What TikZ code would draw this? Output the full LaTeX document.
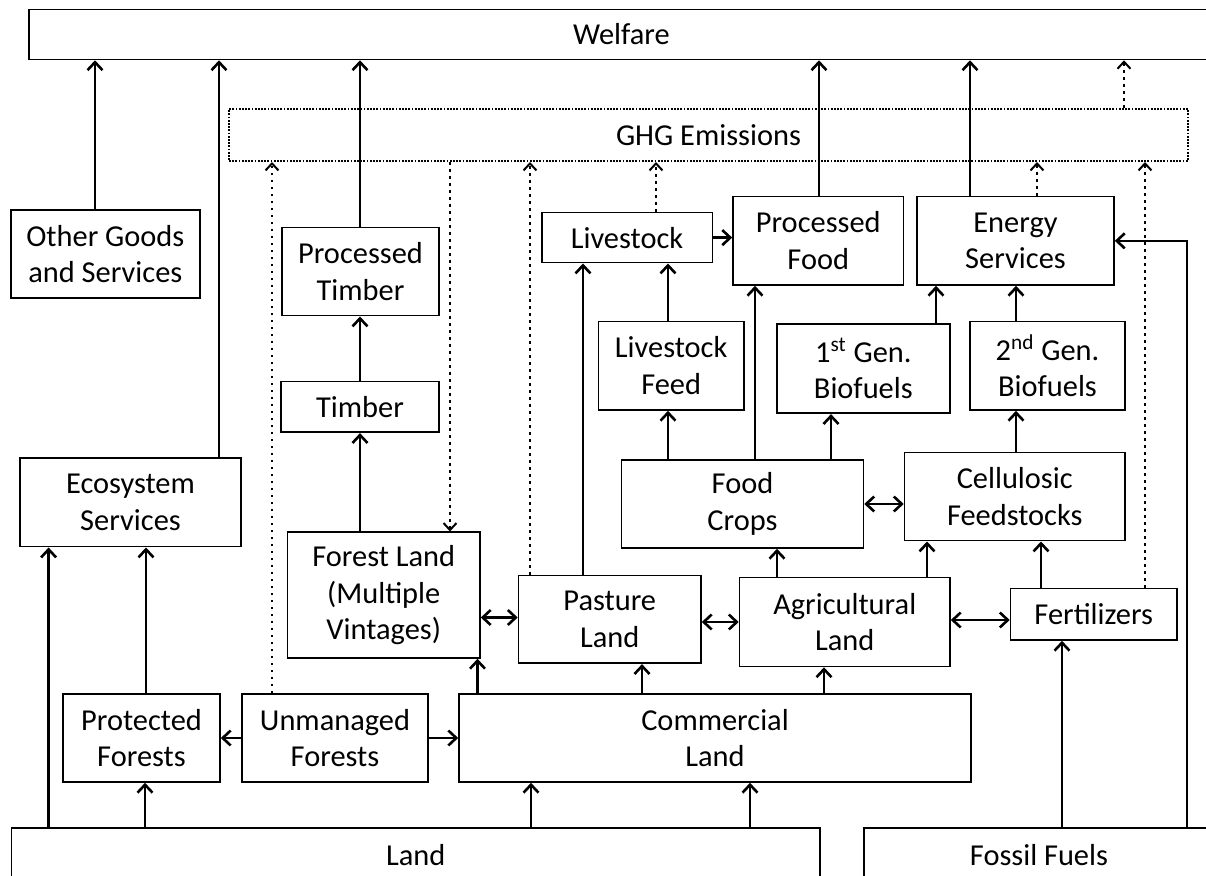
\documentclass[tikz,border=0pt]{standalone}
\usepackage{fontspec}
\setmainfont{Carlito}
\usetikzlibrary{arrows.meta}
\newcommand{\bnode}[6]{\node[box, minimum width={(#4-#2)*0.5pt}, minimum height={(#5-#3)*0.5pt}] (#1) at ({(#2+#4)/2},{(#3+#5)/2}) {#6};}
\begin{document}
\begin{tikzpicture}[x=0.5pt,y=-0.5pt,
  box/.style={draw, line width=0.8pt, inner sep=0pt, align=center, font=\fontsize{15.2}{18.3}\selectfont},
  ghgbox/.style={draw, line width=1pt, dash pattern=on 0.9pt off 0.7pt, inner sep=0pt, align=center, font=\fontsize{15.2}{18.3}\selectfont},
  arr/.style={line width=1.3pt, -{Straight Barb[length=4pt,width=7.5pt]}},
  darr/.style={line width=1.3pt, {Straight Barb[length=4pt,width=7.5pt]}-{Straight Barb[length=4pt,width=7.5pt]}},
  dotarr/.style={line width=1.3pt, dash pattern=on 1.3pt off 2.2pt, -{Straight Barb[length=3.5pt,width=6.5pt,line width=1pt]}}]
\useasboundingbox (0,0) rectangle (1206,876);
\clip (0,0) rectangle (1206,876);
\fill[white] (0,0) rectangle (1206,876);

\bnode{welfare}{28.7}{9.5}{1214}{59.5}{Welfare}
\node[ghgbox, minimum width={(1188-229)*0.5pt}, minimum height={(161-109)*0.5pt}] (ghg) at ({(229+1188)/2},{(109+161)/2}) {GHG Emissions};
\bnode{other}{10.7}{210}{200}{298}{Other Goods\\and Services}
\bnode{ptimber}{282}{227.5}{439}{315.7}{Processed\\Timber}
\bnode{livestock}{541.7}{212.5}{712.3}{262.7}{Livestock}
\bnode{pfood}{733}{196.7}{903.5}{285}{Processed\\Food}
\bnode{energy}{917}{196.7}{1114}{285}{Energy\\Services}
\bnode{timber}{281}{381.7}{439}{432.3}{Timber}
\bnode{feed}{598.3}{321.7}{744}{410}{Livestock\\Feed}
\bnode{gen1}{776.7}{324.3}{950}{413.3}{1\textsuperscript{st} Gen.\\Biofuels}
\bnode{gen2}{970}{321.7}{1125}{410}{2\textsuperscript{nd} Gen.\\Biofuels}
\bnode{eco}{20}{458}{241}{546.7}{Ecosystem\\Services}
\bnode{food}{621.5}{460}{863.5}{548}{Food\\Crops}
\bnode{cell}{904.5}{452.5}{1125}{540.7}{Cellulosic\\Feedstocks}
\bnode{forest}{287.5}{532.3}{480}{658}{Forest Land\\(Multiple\\Vintages)}
\bnode{pasture}{518.5}{575.5}{701}{663.3}{Pasture\\Land}
\bnode{agri}{739.5}{577.5}{950}{666.5}{Agricultural\\Land}
\bnode{fert}{1010.5}{588.5}{1177}{640}{Fertilizers}
\bnode{prot}{63}{694}{220}{782}{Protected\\Forests}
\bnode{unman}{242}{694}{428}{782}{Unmanaged\\Forests}
\bnode{comm}{459}{694}{971}{782}{Commercial\\Land}
\bnode{land}{11.5}{828}{820}{882}{Land}
\bnode{fossil}{864}{828}{1214}{882}{Fossil Fuels}

\draw[arr] (95,0 |- other.north) -- (95,0 |- welfare.south);
\draw[arr] (219,0 |- eco.north) -- (219,0 |- welfare.south);
\draw[arr] (360,0 |- ptimber.north) -- (360,0 |- welfare.south);
\draw[arr] (819,0 |- pfood.north) -- (819,0 |- welfare.south);
\draw[arr] (970,0 |- energy.north) -- (970,0 |- welfare.south);
\draw[dotarr] (1124,0 |- ghg.north) -- (1124,0 |- welfare.south);
\draw[dotarr] (272,0 |- unman.north) -- (272,0 |- ghg.south);
\draw[dotarr] (450,0 |- ghg.south) -- (450,0 |- forest.north);
\draw[dotarr] (530,0 |- pasture.north) -- (530,0 |- ghg.south);
\draw[dotarr] (656,0 |- livestock.north) -- (656,0 |- ghg.south);
\draw[dotarr] (1037,0 |- energy.north) -- (1037,0 |- ghg.south);
\draw[dotarr] (1145,0 |- fert.north) -- (1145,0 |- ghg.south);
\draw[arr] (360,0 |- timber.north) -- (360,0 |- ptimber.south);
\draw[arr] (360,0 |- forest.north) -- (360,0 |- timber.south);
\draw[arr] (583,0 |- pasture.north) -- (583,0 |- livestock.south);
\draw[arr] (668,0 |- feed.north) -- (668,0 |- livestock.south);
\draw[arr] (livestock.east) -- (livestock.east -| pfood.west);
\draw[arr] (755,0 |- food.north) -- (755,0 |- pfood.south);
\draw[arr] (936,0 |- gen1.north) -- (936,0 |- energy.south);
\draw[arr] (1016,0 |- gen2.north) -- (1016,0 |- energy.south);
\draw[arr] (1187,0 |- fossil.north) |- (energy.east);
\draw[arr] (668,0 |- food.north) -- (668,0 |- feed.south);
\draw[arr] (831,0 |- food.north) -- (831,0 |- gen1.south);
\draw[darr] (food.east) -- (food.east -| cell.west);
\draw[arr] (1016,0 |- cell.north) -- (1016,0 |- gen2.south);
\draw[arr] (777,0 |- agri.north) -- (777,0 |- food.south);
\draw[arr] (927,0 |- agri.north) -- (927,0 |- cell.south);
\draw[arr] (1041,0 |- fert.north) -- (1041,0 |- cell.south);
\draw[darr] (forest.east |- 0,617.5) -- (pasture.west |- 0,617.5);
\draw[darr] (pasture.east |- agri.west) -- (agri.west);
\draw[darr] (agri.east |- 0,620) -- (fert.west |- 0,620);
\draw[arr] (1062,0 |- fossil.north) -- (1062,0 |- fert.south);
\draw[arr] (477.5,0 |- comm.north) -- (477.5,0 |- forest.south);
\draw[arr] (642,0 |- comm.north) -- (642,0 |- pasture.south);
\draw[arr] (824,0 |- comm.north) -- (824,0 |- agri.south);
\draw[arr] (unman.west) -- (unman.west -| prot.east);
\draw[arr] (unman.east) -- (unman.east -| comm.west);
\draw[arr] (48.6,0 |- land.north) -- (48.6,0 |- eco.south);
\draw[arr] (146,0 |- prot.north) -- (146,0 |- eco.south);
\draw[arr] (145,0 |- land.north) -- (145,0 |- prot.south);
\draw[arr] (531,0 |- land.north) -- (531,0 |- comm.south);
\draw[arr] (750,0 |- land.north) -- (750,0 |- comm.south);
\end{tikzpicture}
\end{document}
